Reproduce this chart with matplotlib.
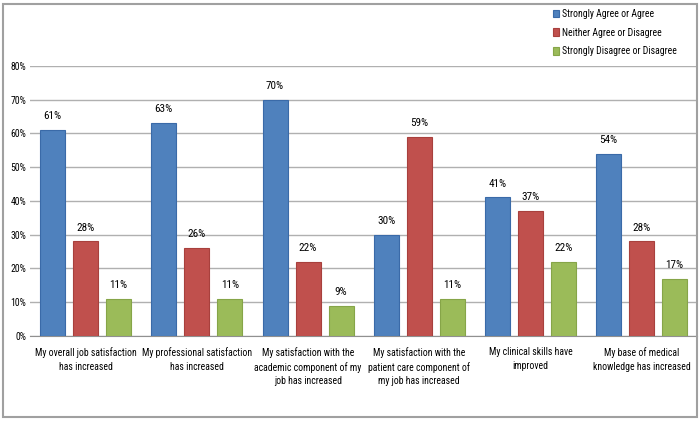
import matplotlib
matplotlib.use('Agg')
import matplotlib.pyplot as plt
import numpy as np
from matplotlib.patches import Rectangle
from matplotlib import font_manager

# pick a narrow font if one is around
fonts = font_manager.fontManager.ttflist
names = {f.name for f in fonts}
narrow = None
for n in ['Liberation Sans Narrow', 'Roboto Condensed', 'Open Sans Condensed']:
    if n in names:
        narrow = n
        break
if narrow:
    plt.rcParams['font.family'] = [narrow, 'DejaVu Sans']
    fs = 8
    fs_cat = 7
else:
    plt.rcParams['font.family'] = ['DejaVu Sans']
    fs = 6.6
    fs_cat = 6

# Data
categories = ['My overall job satisfaction\nhas increased',
              'My professional satisfaction\nhas increased',
              'My satisfaction with the\nacademic component of my\njob has increased',
              'My satisfaction with the\npatient care component of\nmy job has increased',
              'My clinical skills have\nimproved',
              'My base of medical\nknowledge has increased']
agree = [61, 63, 70, 30, 41, 54]
neutral = [28, 26, 22, 59, 37, 28]
disagree = [11, 11, 9, 11, 22, 17]
series_names = ['Strongly Agree or Agree', 'Neither Agree or Disagree', 'Strongly Disagree or Disagree']
colors = ['#4F81BD', '#C0504D', '#9BBB59']
edges = ['#3A6AA8', '#A8403D', '#86A548']

fig = plt.figure(figsize=(7, 4.22), dpi=100)
ax = fig.add_axes([0.043, 0.204, 0.953, 0.64])

x = np.arange(len(categories))
width = 0.225
step = 0.297
for i, (vals, name) in enumerate(zip([agree, neutral, disagree], series_names)):
    pos = x + (i - 1) * step
    ax.bar(pos, vals, width, color=colors[i], edgecolor=edges[i], linewidth=0.8, label=name, zorder=3)
    for p, v in zip(pos, vals):
        ax.text(p, v + 2.6, '%d%%' % v, ha='center', va='bottom', fontsize=fs)

ax.set_xlim(-0.5, 5.5)
ax.set_ylim(0, 80)
ax.set_yticks(range(0, 81, 10))
ax.set_yticklabels(['%d%%' % t for t in range(0, 81, 10)], fontsize=fs_cat)
ax.set_xticks(x)
ax.set_xticklabels(categories, fontsize=fs_cat, linespacing=1.45)
ax.tick_params(axis='x', length=0, pad=8)
ax.tick_params(axis='y', length=0, pad=3)
ax.grid(axis='y', color='#B0B0B0', linewidth=1, zorder=0)
for s in ['top', 'right', 'left']:
    ax.spines[s].set_visible(False)
ax.spines['bottom'].set_color('#909090')

fig.legend(loc='upper left', bbox_to_anchor=(0.778, 1.0), frameon=False, fontsize=fs_cat,
           handlelength=0.6, handleheight=0.8, handletextpad=0.3, labelspacing=0.9)

fig.patches.append(Rectangle((0.004, 0.012), 0.991, 0.978, transform=fig.transFigure,
                             fill=False, edgecolor='#A0A0A0', linewidth=1.5))

fig.savefig('out.png', dpi=100)
